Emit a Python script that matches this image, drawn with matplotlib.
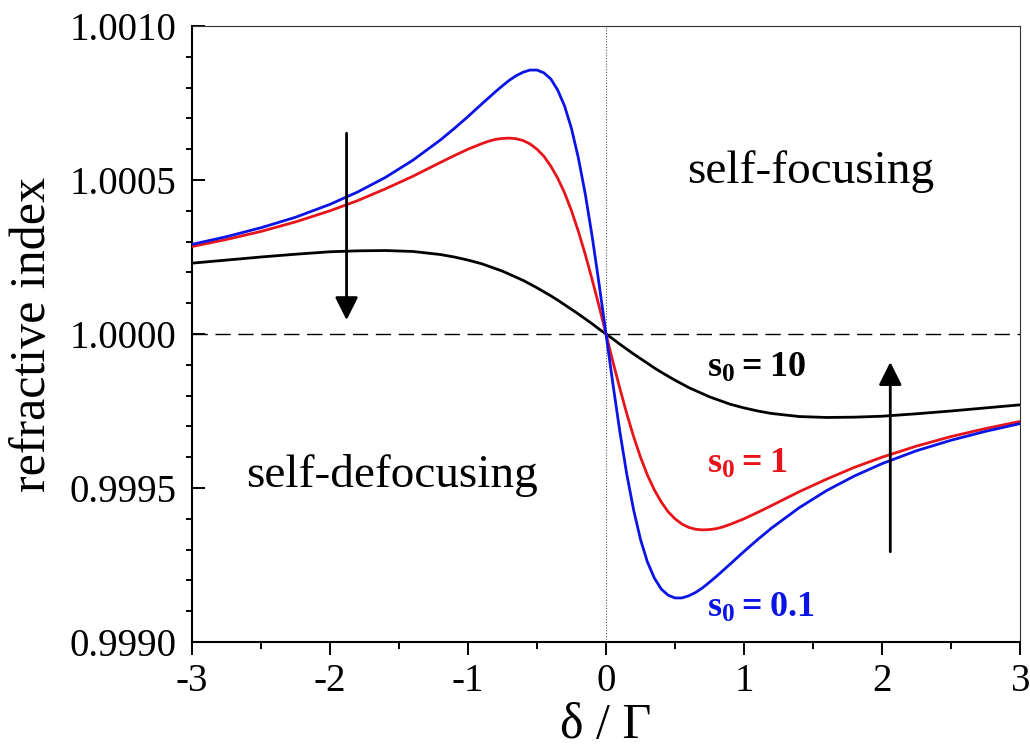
import numpy as np
import matplotlib
matplotlib.use("Agg")
import matplotlib.pyplot as plt
from matplotlib.ticker import MultipleLocator, FormatStrFormatter

plt.rcParams["font.family"] = ["Liberation Serif", "DejaVu Serif"]
plt.rcParams["mathtext.fontset"] = "custom"
plt.rcParams["mathtext.rm"] = "Liberation Serif"
plt.rcParams["mathtext.bf"] = "Liberation Serif:bold"
plt.rcParams["axes.unicode_minus"] = False

# detuning in units of the linewidth
delta = [-3.0, -2.75, -2.5, -2.25, -2.0, -1.8, -1.6, -1.4, -1.2, -1.1, -1.0,
         -0.9, -0.85, -0.8, -0.75, -0.7, -0.65, -0.6, -0.55, -0.5, -0.45,
         -0.4, -0.35, -0.3, -0.25, -0.2, -0.15, -0.1, -0.05, 0.0,
         0.05, 0.1, 0.15, 0.2, 0.25, 0.3, 0.35, 0.4, 0.45, 0.5, 0.55, 0.6,
         0.65, 0.7, 0.75, 0.8, 0.85, 0.9, 1.0, 1.1, 1.2, 1.4, 1.6, 1.8, 2.0,
         2.25, 2.5, 2.75, 3.0]

# (n - 1) in units of 1e-4 for the three saturation parameters
dn_s01 = [2.91, 3.16, 3.45, 3.79, 4.21, 4.61, 5.08, 5.64, 6.30, 6.67, 7.06,
          7.47, 7.67, 7.87, 8.06, 8.24, 8.39, 8.50, 8.57, 8.57, 8.48,
          8.28, 7.92, 7.40, 6.67, 5.71, 4.54, 3.16, 1.62, 0.00,
          -1.62, -3.16, -4.54, -5.71, -6.67, -7.40, -7.92, -8.28, -8.48,
          -8.57, -8.57, -8.50, -8.39, -8.24, -8.06, -7.87, -7.67, -7.47,
          -7.06, -6.67, -6.30, -5.64, -5.08, -4.61, -4.21, -3.79, -3.45,
          -3.16, -2.91]
dn_s1 = [2.84, 3.07, 3.33, 3.64, 4.00, 4.33, 4.71, 5.12, 5.57, 5.79, 6.00,
         6.18, 6.26, 6.32, 6.35, 6.36, 6.34, 6.28, 6.17, 6.00, 5.77,
         5.45, 5.06, 4.58, 4.00, 3.33, 2.58, 1.76, 0.90, 0.00,
         -0.90, -1.76, -2.58, -3.33, -4.00, -4.58, -5.06, -5.45, -5.77,
         -6.00, -6.17, -6.28, -6.34, -6.36, -6.35, -6.32, -6.26, -6.18,
         -6.00, -5.79, -5.57, -5.12, -4.71, -4.33, -4.00, -3.64, -3.33,
         -3.07, -2.84]
dn_s10 = [2.30, 2.40, 2.50, 2.59, 2.67, 2.70, 2.71, 2.68, 2.58, 2.50, 2.40,
          2.28, 2.20, 2.12, 2.04, 1.94, 1.84, 1.74, 1.62, 1.50, 1.37,
          1.24, 1.10, 0.95, 0.80, 0.65, 0.49, 0.33, 0.16, 0.00,
          -0.16, -0.33, -0.49, -0.65, -0.80, -0.95, -1.10, -1.24, -1.37,
          -1.50, -1.62, -1.74, -1.84, -1.94, -2.04, -2.12, -2.20, -2.28,
          -2.40, -2.50, -2.58, -2.68, -2.71, -2.70, -2.67, -2.59, -2.50,
          -2.40, -2.30]

curve_labels = [r"$\mathbf{s_0 = 0.1}$", r"$\mathbf{s_0 = 1}$", r"$\mathbf{s_0 = 10}$"]
curve_colors = ["#0a14e6", "#e8141a", "#000000"]
label_pos = [(0.73, 0.99908), (0.73, 0.99955), (0.73, 0.99986)]

# arrows showing the trend with increasing s0
arrow_x = [-1.88, 2.06]
arrow_tail = [1.000652, 0.999293]
arrow_tip = [1.000045, 0.999909]

fig = plt.figure(figsize=(10.3, 7.52), dpi=100)
ax = fig.add_axes([192 / 1030, 110 / 752, 828 / 1030, 616 / 752])

ax.axhline(1.0, color="k", lw=1.0, dashes=(11, 5.5), zorder=1)
ax.axvline(0.0, color="#555555", lw=0.8, ls=(0, (1, 1.5)), zorder=1)

x = np.array(delta)
for dn, c in zip([dn_s10, dn_s1, dn_s01], curve_colors[::-1]):
    ax.plot(x, 1 + np.array(dn) * 1e-4, color=c, lw=2.0,
            solid_joinstyle="round", zorder=3)

for lab, c, (lx, ly) in zip(curve_labels, curve_colors, label_pos):
    ax.text(lx, ly, lab, color=c, fontsize=26, ha="left", va="baseline")

for ax_x, y0, y1 in zip(arrow_x, arrow_tail, arrow_tip):
    ax.annotate("", xy=(ax_x, y1), xytext=(ax_x, y0),
                arrowprops=dict(arrowstyle="-|>,head_length=0.7,head_width=0.35",
                                color="k", lw=2.0, mutation_scale=20,
                                shrinkA=0, shrinkB=0), zorder=4)

ax.text(1.48, 1.000489, "self-focusing", fontsize=34, ha="center", va="baseline")
ax.text(-1.55, 0.999504, "self-defocusing", fontsize=34, ha="center", va="baseline")

ax.set_xlim(-3, 3)
ax.set_ylim(0.9990, 1.0010)
ax.xaxis.set_major_locator(MultipleLocator(1))
ax.xaxis.set_minor_locator(MultipleLocator(0.5))
ax.yaxis.set_major_locator(MultipleLocator(0.0005))
ax.yaxis.set_minor_locator(MultipleLocator(0.0001))
ax.yaxis.set_major_formatter(FormatStrFormatter("%.4f"))

ax.tick_params(axis="y", which="major", direction="in", length=9.5, width=1.4,
               labelsize=28, pad=11)
ax.tick_params(axis="y", which="minor", direction="out", length=4, width=1.4)
ax.tick_params(axis="x", which="major", direction="out", length=9, width=1.4,
               labelsize=28, pad=6)
ax.tick_params(axis="x", which="minor", direction="out", length=5, width=1.4)
ax.tick_params(top=False, right=False, which="both")

for side in ["left", "bottom"]:
    ax.spines[side].set_linewidth(1.5)
for side in ["top", "right"]:
    ax.spines[side].set_linewidth(0.8)
    ax.spines[side].set_color("#333333")

ax.set_xlabel("δ / Γ", fontsize=36, labelpad=2)
ax.set_ylabel("refractive index", fontsize=36, labelpad=10)

fig.savefig("out.png", dpi=100)
